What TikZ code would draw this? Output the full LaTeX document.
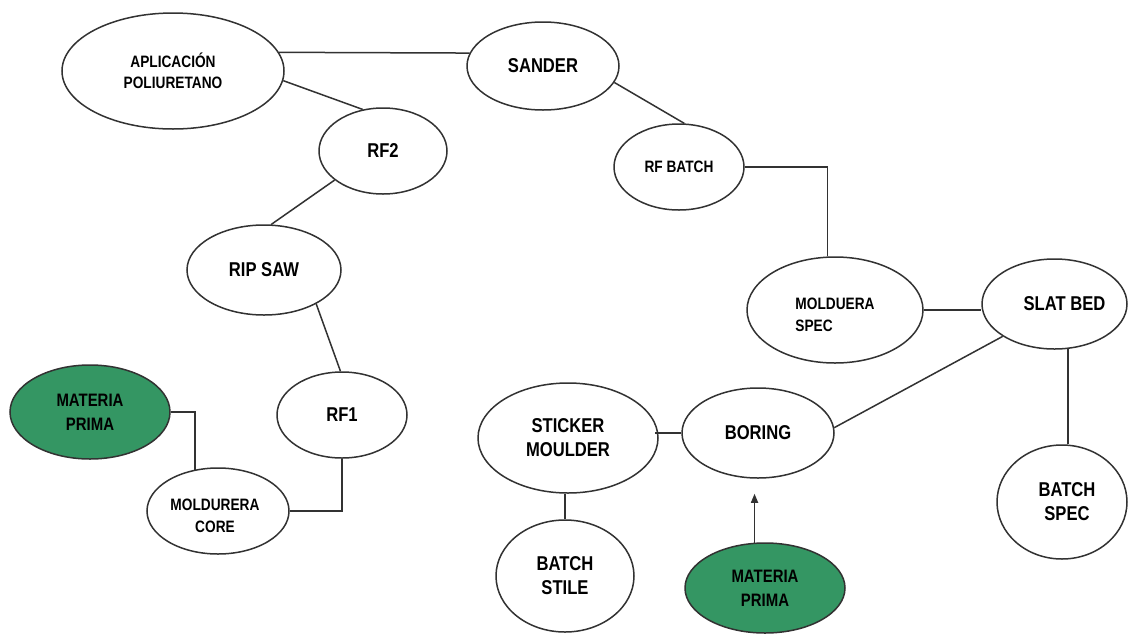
\documentclass[tikz,border=0pt]{standalone}
\usepackage{fontspec}
\newfontfamily\lblfont{Liberation Sans}[UprightFont={* Bold}, FakeStretch=0.83]
\usetikzlibrary{shapes.geometric, arrows.meta}

\definecolor{edgegray}{RGB}{50,50,50}
\definecolor{rawgreen}{RGB}{52,150,99}

\tikzset{
  proc/.style={ellipse, draw=edgegray, line width=1.5pt, inner sep=0pt,
               align=center, text=black},
  big/.style={font=\lblfont\fontsize{20}{24}\selectfont, text=black},
  mid/.style={font=\lblfont\fontsize{18}{24}\selectfont, text=black},
  small/.style={font=\lblfont\fontsize{16.5}{21.5}\selectfont, text=black},
  raw/.style={proc, fill=rawgreen},
  link/.style={draw=edgegray, line width=1.5pt},
  feed/.style={link, -{Triangle[length=9pt,width=7pt]}, shorten >=15pt}
}

\begin{document}
\begin{tikzpicture}[x=1pt,y=-1pt]
  \useasboundingbox[fill=white] (0,0) rectangle (1128,633);

  % process stations
  \node[proc, small, minimum width=222pt, minimum height=116pt] (apl)    at (173,71)   {APLICACIÓN\\POLIURETANO};
  \node[proc, big,   minimum width=152pt, minimum height=88pt]  (sander) at (543,66)   {SANDER};
  \node[proc, big,   minimum width=128pt, minimum height=86pt]  (rf2)    at (383,151)  {RF2};
  \node[proc, small, minimum width=130pt, minimum height=86pt]  (rfb)    at (679,167)  {RF BATCH};
  \node[proc, big,   minimum width=154pt, minimum height=90pt]  (rip)    at (264,270)  {RIP SAW};
  \node[proc, minimum width=176pt, minimum height=106pt,
        label={[small, align=left, yshift=-5pt]center:MOLDUERA\\SPEC}] (spec) at (835,310) {};
  \node[proc, minimum width=145pt, minimum height=90pt,
        label={[big, xshift=10pt]center:SLAT BED}]              (slat)   at (1054.5,304) {};
  \node[raw,  mid,   minimum width=160pt, minimum height=94pt]  (mp1)    at (90,412)   {MATERIA\\PRIMA};
  \node[proc, big,   minimum width=130pt, minimum height=86pt]  (rf1)    at (342,415)  {RF1};
  \node[proc, big,   minimum width=180pt, minimum height=110pt] (stk)    at (568,438)  {STICKER\\MOULDER};
  \node[proc, big,   minimum width=152pt, minimum height=90pt]  (boring) at (758,433)  {BORING};
  \node[proc, minimum width=142pt, minimum height=86pt,
        label={[small, align=center, xshift=-3pt, yshift=-5pt]center:MOLDURERA\\CORE}] (core) at (218,511) {};
  \node[proc, minimum width=130pt, minimum height=114pt,
        label={[big, align=center, xshift=5pt]center:BATCH\\SPEC}] (bspec) at (1062,502) {};
  \node[proc, big,   minimum width=138pt, minimum height=112pt] (stile)  at (565,576)  {BATCH\\STILE};
  \node[raw,  mid,   minimum width=160pt, minimum height=90pt]  (mp2)    at (765,588)  {MATERIA\\PRIMA};

  % connections
  \draw[link] (apl.10) -- (sander.170);
  \draw[link] (apl.-5.7) -- (rf2.116.6);
  \draw[link] (sander.-13.3) -- (rfb.83.4);
  \draw[link] (rf2.211.8) -- (rip.81.3);
  \draw[link] (rip.-33.4) -- (rf1.92.7);
  \draw[link] (rfb.east) -| (spec.98.7);
  \draw[link] (spec.east) -- (spec.east -| slat.west);
  \draw[link] (slat.212.6) -- (boring.4.5);
  \draw[link] (slat.-73) -- (slat.-73 |- bspec.north);
  \draw[link, shorten >=-4pt] (boring.west) -- (boring.west -| stk.east);
  \draw[link] (stile.north |- stk.south) -- (stile.north);
  \draw[link] (mp1.east) -| (core.119.5);
  \draw[link] (rf1.south) |- (core.east);
  \draw[feed] (mp2.103.9) -- (mp2.103.9 |- boring.south);
\end{tikzpicture}
\end{document}
